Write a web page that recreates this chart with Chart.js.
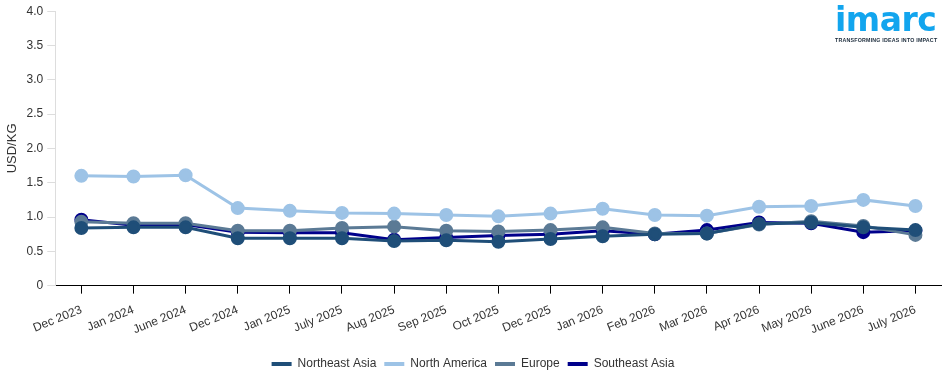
<!DOCTYPE html>
<html>
<head>
<meta charset="utf-8">
<script src="https://cdn.jsdelivr.net/npm/chart.js@4"></script>
<style>
  body { margin: 0; background: #fff; font-family: Arial, "Liberation Sans", sans-serif; }
  #wrap { position: relative; width: 950px; height: 380px; }
  #logo { position: absolute; left: 835px; top: 0px; width: 112px; }
  #logo .name { color: #12a5ee; font: bold 33px "DejaVu Sans", Arial, sans-serif; letter-spacing: -0.5px; line-height: 40px; }
  #logo .tag { color: #1a2a3a; font: bold 5.3px Arial, sans-serif; margin-top: -3px; letter-spacing: 0.2px; white-space: nowrap; }
</style>
</head>
<body>
<div id="wrap">
  <canvas id="grafik" width="950" height="380"></canvas>
  <div id="logo"><div class="name">imarc</div><div class="tag">TRANSFORMING IDEAS INTO IMPACT</div></div>
</div>
<script>
const bulan = ["Dec 2023","Jan 2024","June 2024","Dec 2024","Jan 2025","July 2025","Aug 2025","Sep 2025","Oct 2025","Dec 2025","Jan 2026","Feb 2026","Mar 2026","Apr 2026","May 2026","June 2026","July 2026"];

const northeastAsia = [0.84,0.85,0.85,0.69,0.69,0.69,0.65,0.66,0.64,0.68,0.72,0.75,0.76,0.90,0.92,0.85,0.81];
const northAmerica  = [1.60,1.59,1.61,1.13,1.09,1.06,1.05,1.03,1.01,1.05,1.12,1.03,1.02,1.15,1.16,1.25,1.16];
const europe        = [0.93,0.91,0.91,0.80,0.80,0.84,0.86,0.80,0.79,0.81,0.85,0.76,0.76,0.89,0.94,0.87,0.74];
const southeastAsia = [0.96,0.88,0.89,0.78,0.77,0.77,0.67,0.70,0.73,0.75,0.80,0.75,0.81,0.92,0.91,0.78,0.80];

const yTicks = [0,0.5,1.0,1.5,2.0,2.5,3.0,3.5,4.0];

// helper bikin dataset
const seri = (label, data, warna) => ({
    label, data, borderColor: warna, backgroundColor: warna,
    pointBackgroundColor: warna, pointBorderColor: warna,
    borderWidth: 3, pointRadius: 5.5, pointHoverRadius: 5.5, tension: 0
});

Chart.defaults.font.family = "Arial, 'Liberation Sans', sans-serif";
Chart.defaults.color = "#333";

new Chart(grafik, {
    type: "line",
    data: {
        labels: bulan,
        datasets: [
            seri("Northeast Asia", northeastAsia, "#1f4e78"),
            seri("North America", northAmerica, "#9dc3e6"),
            seri("Europe", europe, "#5b7a95"),
            seri("Southeast Asia", southeastAsia, "#00008b")
        ]
    },
    options: {
        responsive: false, animation: false,
        layout: { padding: { top: 4, right: 7, left: 3, bottom: 0 } },
        plugins: {
            legend: {
                position: "bottom",
                labels: { boxWidth: 20, boxHeight: 4, padding: 8, color: "#333", font: { size: 12 },
                    generateLabels: c => c.data.datasets.map((d, i) => ({
                        text: d.label, fillStyle: d.borderColor, strokeStyle: d.borderColor,
                        lineWidth: 0, datasetIndex: i, fontColor: "#333"
                    }))
                }
            },
            tooltip: { enabled: false }
        },
        scales: {
            x: {
                offset: true,
                afterFit: ax => { ax.height += 4; }, // jarak tambahan ke legend
                grid: { drawOnChartArea: false, drawTicks: true, tickLength: 8, color: "#000", offset: false },
                border: { color: "#000" },
                ticks: { color: "#333", font: { size: 12 }, maxRotation: 22, minRotation: 22, autoSkip: false, padding: 9 }
            },
            y: {
                min: 0, max: 4,
                afterBuildTicks: ax => { ax.ticks = yTicks.map(v => ({ value: v })); },
                title: { display: true, text: "USD/KG", color: "#333", font: { size: 13 }, padding: 2 },
                grid: { drawOnChartArea: false, drawTicks: true, tickLength: 8, color: "#ddd" },
                border: { color: "#ddd" },
                ticks: { color: "#333", font: { size: 12 }, padding: 4, callback: v => v === 0 ? "0" : v.toFixed(1) }
            }
        }
    }
});
</script>
</body>
</html>
